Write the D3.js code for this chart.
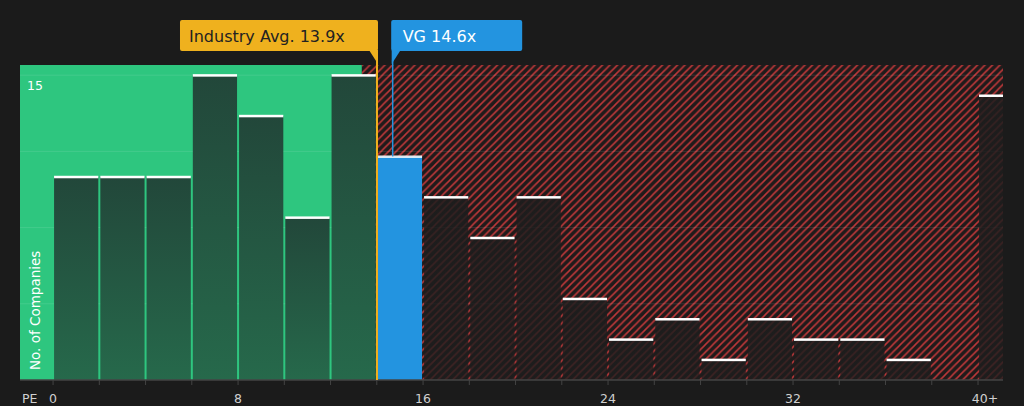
<!DOCTYPE html>
<html><head><meta charset="utf-8">
<script src="https://cdn.jsdelivr.net/npm/d3@7"></script>
<style>
html,body{margin:0;padding:0;background:#1b1b1b;}
svg{display:block;font-family:"DejaVu Sans",sans-serif;}
</style></head>
<body><svg id="chart" width="1024" height="406"></svg>
<script>
// Data
const binStarts = [0,2,4,6,8,10,12,14,16,18,20,22,24,26,28,30,32,34,36,38,40];
const counts    = [10,10,10,15,13,8,15,11,9,7,9,4,2,3,1,3,2,2,1,0,14];
const xTickValues = [0,8,16,24,32,40];
const xTickLabels = ["0","8","16","24","32","40+"];
const industryAvg = 13.9;
const companyPE = 14.6;
const companyName = "VG";
const fairLimit = 13.35;
const yTickLabel = 15;

(function(){
const svg = d3.select("#chart");
const pL = 20, pR = 1003, pT = 65, pB = 380;
const xs = d3.scaleLinear().domain([-1.43, 41.08]).range([pL, pR]);
const ys = d3.scaleLinear().domain([0, 15.5]).range([pB, pT]);

const defs = svg.append("defs");
const P = 7.5;
const pat = defs.append("pattern").attr("id","hatch").attr("patternUnits","userSpaceOnUse")
  .attr("width",P).attr("height",P);
pat.append("rect").attr("width",P).attr("height",P).attr("fill","#201b1b");
pat.append("path").attr("d",`M-2,2 l4,-4 M0,${P} l${P},-${P} M${P-2},${P+2} l4,-4`)
  .attr("stroke","#c0383a").attr("stroke-width",1.5);
const gG = defs.append("linearGradient").attr("id","gbar").attr("x1",0).attr("y1",0).attr("x2",0).attr("y2",1);
gG.append("stop").attr("offset","0%").attr("stop-color","#22473a");
gG.append("stop").attr("offset","100%").attr("stop-color","#26694b");
const gR = defs.append("linearGradient").attr("id","rbar").attr("x1",0).attr("y1",0).attr("x2",0).attr("y2",1);
gR.append("stop").attr("offset","0%").attr("stop-color","#1d1d1d").attr("stop-opacity",0.85);
gR.append("stop").attr("offset","100%").attr("stop-color","#1d1d1d").attr("stop-opacity",0.78);
const clip = defs.append("clipPath").attr("id","plotclip");
clip.append("rect").attr("x",pL).attr("y",pT).attr("width",pR-pL).attr("height",pB-pT);

// backgrounds
svg.append("rect").attr("x",xs(fairLimit)).attr("y",pT).attr("width",pR-xs(fairLimit)).attr("height",pB-pT).attr("fill","url(#hatch)");
svg.append("rect").attr("x",pL).attr("y",pT).attr("width",xs(fairLimit)-pL).attr("height",pB-pT).attr("fill","#2ec67f");

// gridlines
const grid = d3.range(1,5).map(i => yTickLabel*i/4);
svg.append("g").selectAll("line").data(grid).join("line")
  .attr("x1",pL).attr("x2",pR).attr("y1",d=>ys(d)).attr("y2",d=>ys(d))
  .attr("stroke","#ffffff").attr("stroke-opacity",0.1).attr("stroke-width",1);

// bars
const bars = svg.append("g").attr("clip-path","url(#plotclip)");
const w = xs(2) - xs(0) - 2;
binStarts.forEach((b,i) => {
  const c = counts[i];
  if (c <= 0) return;
  const x0 = xs(b)+1;
  const isCo = companyPE >= b && companyPE < b+2;
  const green = b+2 <= fairLimit+0.7 && !isCo;
  bars.append("rect").attr("x",x0).attr("y",ys(c)).attr("width",w).attr("height",pB-ys(c))
    .attr("fill", isCo ? "#2394e0" : green ? "url(#gbar)" : "url(#rbar)");
  bars.append("rect").attr("x",x0).attr("y",ys(c)-1).attr("width",w).attr("height",2.5)
    .attr("fill","#ffffff").attr("opacity", isCo?0.85:1);
});

// axis
const ax = svg.append("g").attr("transform",`translate(0,${pB})`);
ax.append("line").attr("x1",pL).attr("x2",pR).attr("stroke","#444").attr("stroke-width",1.5);
ax.selectAll("line.t").data(d3.range(0,42,2)).join("line").attr("class","t")
  .attr("x1",d=>xs(d)).attr("x2",d=>xs(d)).attr("y1",0).attr("y2",5).attr("stroke","#444");
ax.selectAll("text").data(xTickValues).join("text")
  .attr("x",(d,i)=>xs(d)+(i===xTickValues.length-1?7:0)).attr("y",23).attr("text-anchor","middle")
  .attr("fill","#d0d0d0").attr("font-size",12.5).text((d,i)=>xTickLabels[i]);
svg.append("text").attr("x",22).attr("y",pB+23).attr("fill","#d0d0d0").attr("font-size",12.5).text("PE");

// y labels
svg.append("text").attr("x",27).attr("y",90).attr("fill","#ffffff").attr("font-size",12.5).text(yTickLabel);
svg.append("text").attr("transform","translate(40,370) rotate(-90)").attr("fill","#ffffff")
  .attr("font-size",13.5).text("No. of Companies");

// marker lines
const off = 2;
const xa = xs(industryAvg)+off+0.5, xc = xs(companyPE)+off;
svg.append("line").attr("x1",xa).attr("x2",xa).attr("y1",60).attr("y2",pB).attr("stroke","#efb11e").attr("stroke-width",2);
svg.append("line").attr("x1",xc).attr("x2",xc).attr("y1",60).attr("y2",ys(counts[7])).attr("stroke","#2394e0").attr("stroke-width",1.5);

// labels
const ia = svg.append("g");
ia.append("rect").attr("x",xa-197).attr("y",20).attr("width",198).attr("height",31).attr("rx",2).attr("fill","#efb11e");
ia.append("path").attr("d",`M${xa-8},50 L${xa+1},50 L${xa+1},64 Z`).attr("fill","#efb11e");
ia.append("text").attr("x",xa-188).attr("y",42).attr("fill","#222").attr("font-size",16).text(`Industry Avg. ${industryAvg}x`);
const vg = svg.append("g");
vg.append("rect").attr("x",xc-1.5).attr("y",20).attr("width",131).attr("height",31).attr("rx",2).attr("fill","#2394e0");
vg.append("path").attr("d",`M${xc-1},50 L${xc+8},50 L${xc-1},64 Z`).attr("fill","#2394e0");
vg.append("text").attr("x",xc+10).attr("y",42).attr("fill","#fff").attr("font-size",16).text(`${companyName} ${companyPE}x`);
})();
</script></body></html>
